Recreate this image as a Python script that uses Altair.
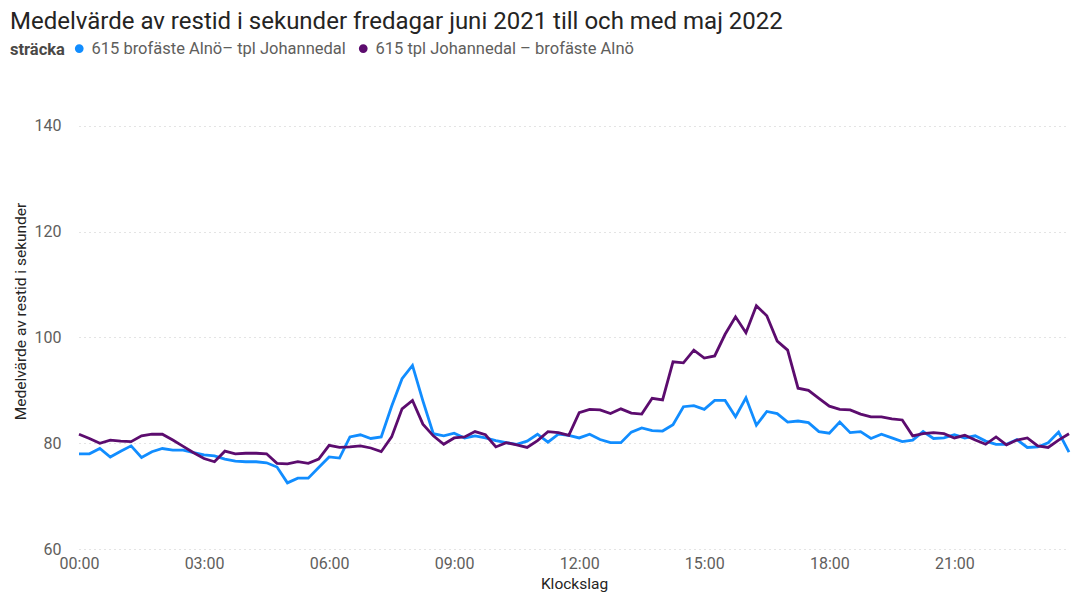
import altair as alt
import pandas as pd

TITLE = "Medelvärde av restid i sekunder fredagar juni 2021 till och med maj 2022"
SERIES = ["615 brofäste Alnö– tpl Johannedal", "615 tpl Johannedal – brofäste Alnö"]
COLORS = ["#118DFF", "#5C0C6E"]

# time of day in hours, one value per 15 minutes (00:00 .. 23:45)
tid = [i * 0.25 for i in range(96)]

alno_johannedal = [
    78.0, 78.0, 79.0, 77.4, 78.5, 79.5, 77.3, 78.4, 79.0, 78.7, 78.7, 78.2,
    77.8, 77.6, 77.0, 76.6, 76.5, 76.5, 76.3, 75.5, 72.5, 73.4, 73.4, 75.4,
    77.4, 77.2, 81.2, 81.6, 80.9, 81.2, 87.0, 92.2, 94.7, 88.0, 81.8, 81.4,
    81.9, 81.0, 81.4, 81.0, 80.5, 80.1, 79.8, 80.4, 81.7, 80.2, 81.7, 81.5,
    81.0, 81.7, 80.7, 80.1, 80.1, 82.1, 82.9, 82.4, 82.3, 83.5, 86.9, 87.1,
    86.4, 88.1, 88.1, 85.0, 88.6, 83.4, 86.0, 85.6, 84.0, 84.2, 83.9, 82.2,
    81.9, 84.0, 82.0, 82.2, 80.9, 81.7, 81.0, 80.3, 80.6, 82.2, 80.9, 81.0,
    81.6, 81.0, 81.4, 80.4, 79.8, 79.8, 80.7, 79.2, 79.3, 80.1, 82.1, 78.3,
]

johannedal_alno = [
    81.7, 80.9, 80.0, 80.6, 80.4, 80.3, 81.4, 81.7, 81.7, 80.6, 79.4, 78.2,
    77.1, 76.5, 78.5, 78.0, 78.1, 78.1, 78.0, 76.2, 76.1, 76.5, 76.2, 77.0,
    79.6, 79.2, 79.3, 79.5, 79.1, 78.4, 81.2, 86.5, 88.1, 83.6, 81.4, 79.8,
    81.0, 81.2, 82.2, 81.6, 79.3, 80.1, 79.7, 79.2, 80.5, 82.2, 82.0, 81.5,
    85.8, 86.4, 86.3, 85.6, 86.5, 85.7, 85.5, 88.5, 88.2, 95.4, 95.2, 97.6,
    96.1, 96.5, 100.6, 103.9, 100.9, 106.0, 104.1, 99.3, 97.6, 90.4, 90.0, 88.5,
    87.0, 86.4, 86.3, 85.5, 85.0, 85.0, 84.6, 84.4, 81.4, 81.8, 82.0, 81.8,
    81.0, 81.5, 80.6, 79.8, 81.2, 79.7, 80.6, 81.0, 79.5, 79.2, 80.6, 81.8,
]

data = pd.concat(
    [
        pd.DataFrame({"tid": tid, "restid": alno_johannedal, "stracka": SERIES[0]}),
        pd.DataFrame({"tid": tid, "restid": johannedal_alno, "stracka": SERIES[1]}),
    ],
    ignore_index=True,
)

chart = (
    alt.Chart(data)
    .mark_line(strokeWidth=2.8)
    .encode(
        x=alt.X(
            "tid:Q",
            scale=alt.Scale(domain=[0, 23.75], nice=False, zero=False),
            axis=alt.Axis(
                values=[0, 3, 6, 9, 12, 15, 18, 21],
                labelExpr="(datum.value < 10 ? '0' : '') + datum.value + ':00'",
                labelFlush=False,
                title="Klockslag",
                grid=False,
                labelPadding=6,
                titlePadding=5,
            ),
        ),
        y=alt.Y(
            "restid:Q",
            scale=alt.Scale(domain=[60, 150], nice=False, zero=False),
            axis=alt.Axis(
                values=[60, 80, 100, 120, 140],
                title="Medelvärde av restid i sekunder",
                labelPadding=18,
                titlePadding=6,
            ),
        ),
        color=alt.Color(
            "stracka:N",
            scale=alt.Scale(domain=SERIES, range=COLORS),
            legend=alt.Legend(
                title="sträcka",
                orient="none",
                legendX=-69,
                legendY=-33,
                direction="horizontal",
                titleOrient="left",
                symbolType="circle",
                symbolSize=18,
                symbolStrokeWidth=4.5,
                labelLimit=400,
                columnPadding=6,
                labelOffset=4,
            ),
        ),
    )
    .properties(
        width=990,
        height=476,
        padding={"left": 2, "top": 2, "right": 5, "bottom": 0},
        title=alt.TitleParams(
            TITLE,
            anchor="start",
            frame="bounds",
            font="Roboto",
            fontSize=24,
            fontWeight="normal",
            color="#252423",
            offset=6,
        ),
    )
    .configure_view(stroke=None)
    .configure_axis(
        domain=False,
        ticks=False,
        tickSize=0,
        labelFont="Roboto",
        labelFontSize=16,
        labelColor="#605E5C",
        titleFont="Roboto",
        titleFontSize=15.5,
        titleFontWeight="normal",
        titleColor="#252423",
        gridColor="#C8C8C8",
        gridDash=[1, 4],
        gridWidth=1,
    )
    .configure_legend(
        labelFont="Roboto",
        labelFontSize=16.5,
        labelColor="#605E5C",
        titleFont="Roboto",
        titleFontSize=16.5,
        titleFontWeight="bold",
        titleColor="#4A4846",
        titlePadding=6,
    )
)

chart.save("out.html", embed_options={"renderer": "svg", "actions": False})
